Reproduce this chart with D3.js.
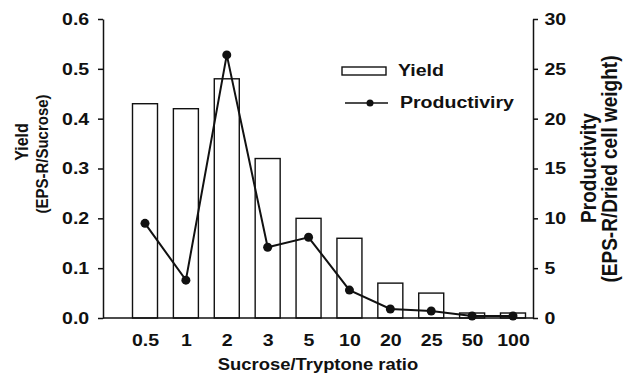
<!DOCTYPE html>
<html>
<head>
<meta charset="utf-8">
<script src="https://cdn.jsdelivr.net/npm/d3@7"></script>
<style>
  body { margin: 0; background: #fff; }
  svg { display: block; }
  text { font-family: "Liberation Sans", Arial, sans-serif; font-weight: bold; fill: #111; }
</style>
</head>
<body>
<svg id="chart"></svg>
<script>
const ratios = ["0.5", "1", "2", "3", "5", "10", "20", "25", "50", "100"];
const yieldVals = [0.43, 0.42, 0.48, 0.32, 0.20, 0.16, 0.07, 0.05, 0.01, 0.01];
const prodVals = [9.5, 3.8, 26.4, 7.1, 8.1, 2.8, 0.9, 0.7, 0.2, 0.2];
const yieldTicks = [0, 0.1, 0.2, 0.3, 0.4, 0.5, 0.6];
const prodTicks = [0, 5, 10, 15, 20, 25, 30];

const width = 632, height = 379;
const plotL = 103, plotR = 533, plotT = 19, plotB = 318;
const stretch = 1.15;

const svg = d3.select("#chart")
    .attr("width", width)
    .attr("height", height);

const x = d3.scalePoint()
    .domain(ratios)
    .range([145, 513]);

const yL = d3.scaleLinear().domain([0, 0.6]).range([plotB, plotT]);
const yR = d3.scaleLinear().domain([0, 30]).range([plotB, plotT]);

const barW = 25;

// bars
svg.append("g")
    .selectAll("rect")
    .data(yieldVals)
    .join("rect")
    .attr("x", (d, i) => x(ratios[i]) - barW / 2)
    .attr("y", d => yL(d))
    .attr("width", barW)
    .attr("height", d => plotB - yL(d))
    .attr("fill", "#fff")
    .attr("stroke", "#111")
    .attr("stroke-width", 1.4);

// baseline
svg.append("line")
    .attr("x1", plotL).attr("x2", plotR)
    .attr("y1", plotB).attr("y2", plotB)
    .attr("stroke", "#111")
    .attr("stroke-width", 1.5);

// productivity line
const line = d3.line()
    .x((d, i) => x(ratios[i]))
    .y(d => yR(d));

svg.append("path")
    .datum(prodVals)
    .attr("d", line)
    .attr("fill", "none")
    .attr("stroke", "#111")
    .attr("stroke-width", 2);

svg.append("g")
    .selectAll("circle")
    .data(prodVals)
    .join("circle")
    .attr("cx", (d, i) => x(ratios[i]))
    .attr("cy", d => yR(d))
    .attr("r", 4.5)
    .attr("fill", "#111");

// axes
const axL = svg.append("g")
    .attr("transform", `translate(${plotL},0)`)
    .call(d3.axisLeft(yL).tickValues(yieldTicks).tickFormat(d3.format(".1f")).tickSize(5).tickSizeOuter(0).tickPadding(7));

const axR = svg.append("g")
    .attr("transform", `translate(${plotR},0)`)
    .call(d3.axisRight(yR).tickValues(prodTicks).tickSize(5).tickSizeOuter(0).tickPadding(5));

const axB = svg.append("g")
    .attr("transform", `translate(0,${plotB})`)
    .call(d3.axisBottom(x).tickSize(0).tickPadding(16));
axB.select(".domain").remove();

[axL, axR, axB].forEach(a => {
    a.select(".domain").attr("stroke", "#111").attr("stroke-width", 1.5);
    a.selectAll(".tick line").attr("stroke", "#111").attr("stroke-width", 1.5);
    a.selectAll(".tick text")
        .attr("font-size", 17)
        .attr("font-family", null)
        .attr("fill", "#111")
        .attr("transform", `scale(${stretch},1)`);
});

// titles
function title(str, tx, ty, rot, size) {
    svg.append("text")
        .attr("transform", `translate(${tx},${ty}) scale(${stretch},1) rotate(${rot})`)
        .attr("text-anchor", "middle")
        .attr("dominant-baseline", "middle")
        .attr("font-size", size)
        .text(str);
}
title("Sucrose/Tryptone ratio", 318, 366, 0, 16);
title("Yield", 23, 142, -90, 16);
title("(EPS-R/Sucrose)", 43, 154, -90, 15);
title("Productivity", 590, 168, -90, 19);
title("(EPS-R/Dried cell weight)", 611, 169, -90, 19);

// legend
const lg = svg.append("g");
lg.append("rect")
    .attr("x", 342).attr("y", 67)
    .attr("width", 44).attr("height", 8)
    .attr("fill", "#fff")
    .attr("stroke", "#111")
    .attr("stroke-width", 1.4);
lg.append("text")
    .attr("transform", `translate(398,72) scale(${stretch},1)`)
    .attr("dominant-baseline", "middle")
    .attr("font-size", 17)
    .text("Yield");
lg.append("line")
    .attr("x1", 345).attr("x2", 388)
    .attr("y1", 103).attr("y2", 103)
    .attr("stroke", "#111")
    .attr("stroke-width", 1.5);
lg.append("circle")
    .attr("cx", 370).attr("cy", 103).attr("r", 3.5)
    .attr("fill", "#111");
lg.append("text")
    .attr("transform", `translate(400,104) scale(${stretch},1)`)
    .attr("dominant-baseline", "middle")
    .attr("font-size", 17)
    .text("Productiviry");
</script>
</body>
</html>
